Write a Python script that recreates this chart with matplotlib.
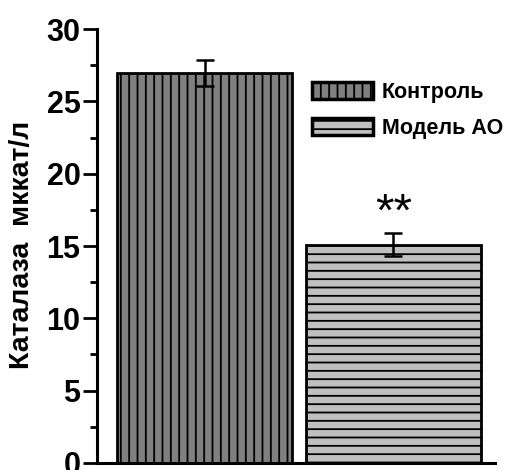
import matplotlib.pyplot as plt
from matplotlib.ticker import MultipleLocator

# data
groups = ["Контроль", "Модель АО"]
values = [27.0, 15.1]
errors = [0.9, 0.8]
colors = ["#808080", "#c0c0c0"]
hatches = ["||", "--"]
ylabel = "Каталаза  мккат/л"

plt.rcParams['font.family'] = ['Liberation Sans', 'DejaVu Sans']
plt.rcParams['font.weight'] = 'bold'
plt.rcParams['hatch.linewidth'] = 1.3

fig = plt.figure(figsize=(5.06, 4.70), dpi=100)
ax = fig.add_axes([0.192, 0.015, 0.786, 0.923])

xs = list(range(len(values)))
for x, v, e, c, h, name in zip(xs, values, errors, colors, hatches, groups):
    ax.bar(x, v, width=0.925, color=c, edgecolor="black", hatch=h,
           linewidth=2, label=name, zorder=2)
    ax.errorbar(x, v, yerr=e, fmt="none", ecolor="black", elinewidth=1.8,
                capsize=6.5, capthick=1.8, zorder=3)

# significance mark above the second bar
ax.text(xs[1], values[1] + errors[1] + 1.35, "**", ha="center", va="center",
        fontsize=34, fontweight="normal")

ax.set_xlim(-0.569, 1.537)
ax.set_ylim(0, 30)
ax.yaxis.set_major_locator(MultipleLocator(5))
ax.yaxis.set_minor_locator(MultipleLocator(2.5))
ax.set_xticks([])
ax.tick_params(axis="y", which="major", labelsize=22, length=10, width=2, pad=2)
ax.tick_params(axis="y", which="minor", length=5, width=2)

fig.text(22 / 506, 1 - 245 / 470, ylabel, rotation=90, ha="center",
         va="center", fontsize=20.5)

for side in ["top", "right"]:
    ax.spines[side].set_visible(False)
for side in ["left", "bottom"]:
    ax.spines[side].set_linewidth(2.2)

leg = ax.legend(loc="upper left", bbox_to_anchor=(0.518, 0.898), frameon=False,
                fontsize=15.5, handlelength=2.85, handleheight=0.8,
                handletextpad=0.4, labelspacing=0.7, borderaxespad=0)
for p in leg.get_patches():
    p.set_linewidth(2.5)

fig.savefig("out.png", dpi=100)
